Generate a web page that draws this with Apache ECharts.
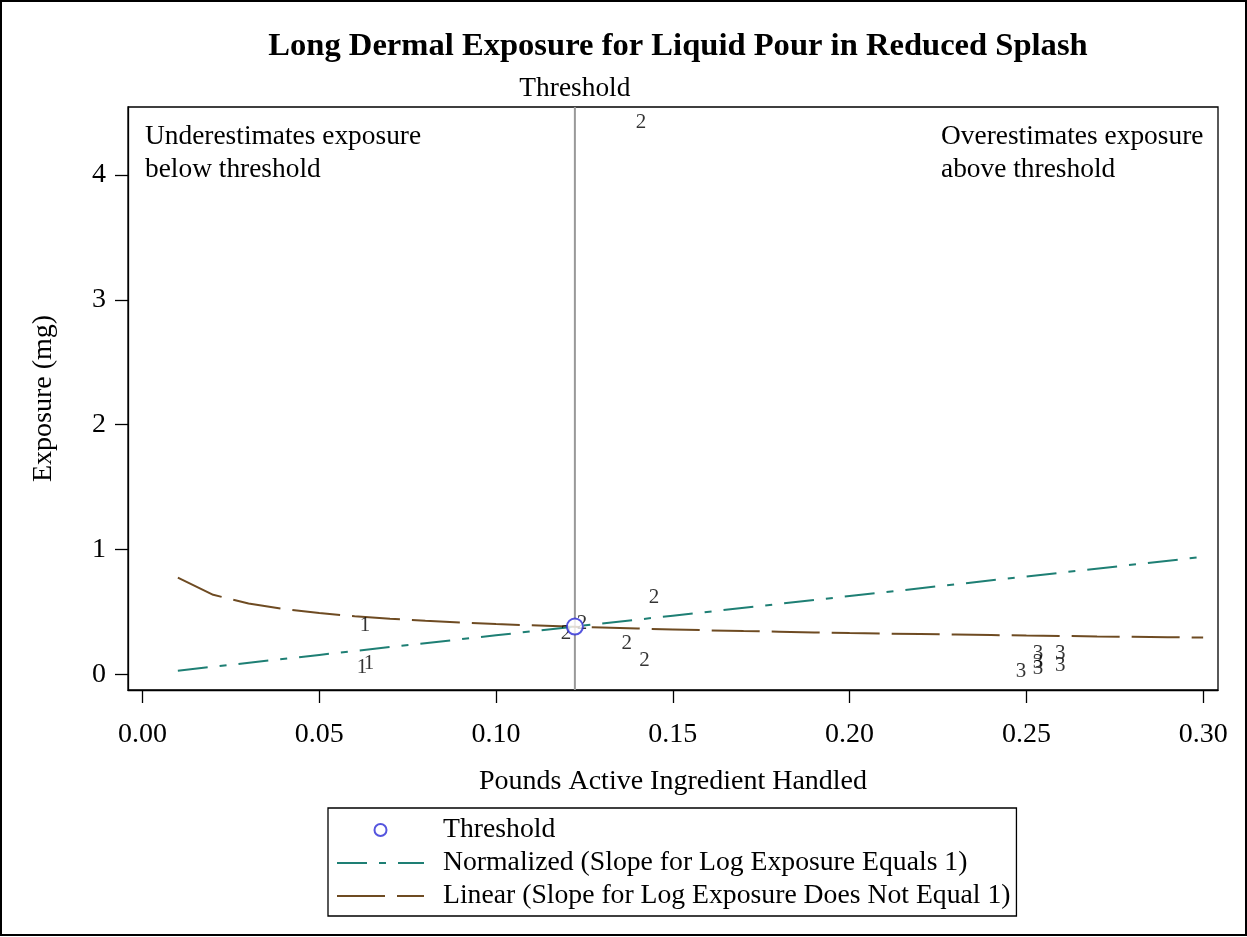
<!DOCTYPE html>
<html><head><meta charset="utf-8">
<script src="https://cdn.jsdelivr.net/npm/echarts@6/dist/echarts.min.js"></script>
<style>html,body{margin:0;padding:0;background:#fff}#c{width:1247px;height:937px}</style>
</head><body><div id="c"></div>
<script>
const xTicks = [0, 0.05, 0.10, 0.15, 0.20, 0.25, 0.30];
const yTicks = [0, 1, 2, 3, 4];
const thresholdX = 0.1223;
const thresholdY = 0.384;
const thresholdLineY = [-0.124, 4.544];
const normX = [0.01, 0.05, 0.10, 0.1223, 0.15, 0.20, 0.25, 0.30];
const normY = [0.031, 0.157, 0.314, 0.384, 0.471, 0.628, 0.785, 0.942];
const linX = [0.01,0.02,0.03,0.04,0.05,0.06,0.07,0.08,0.09,0.10,0.11,0.12,0.13,0.14,0.15,0.16,0.17,0.18,0.19,0.20,0.21,0.22,0.23,0.24,0.25,0.26,0.27,0.28,0.29,0.30];
const linY = [0.776,0.638,0.569,0.524,0.492,0.467,0.447,0.431,0.417,0.404,0.394,0.384,0.376,0.368,0.361,0.354,0.348,0.343,0.337,0.332,0.328,0.324,0.320,0.316,0.312,0.309,0.305,0.302,0.299,0.296];
const ptX = [0.0629, 0.0621, 0.0641, 0.141, 0.1447, 0.1198, 0.1243, 0.137, 0.142, 0.2485, 0.2533, 0.2533, 0.2533, 0.2596, 0.2596];
const ptY = [0.396, 0.060, 0.092, 4.42, 0.620, 0.332, 0.412, 0.252, 0.116, 0.028, 0.172, 0.100, 0.052, 0.172, 0.076];
const ptLabel = ['1','1','1','2','2','2','2','2','2','3','3','3','3','3','3'];

const FONT = 'Liberation Serif';
const chart = echarts.init(document.getElementById('c'), null, {renderer:'canvas'});
chart.setOption({
  animation: false,
  backgroundColor: '#fff',
  title: {
    text: 'Long Dermal Exposure for Liquid Pour in Reduced Splash',
    left: 673, top: 25, textAlign: 'center',
    textStyle: {fontFamily: FONT, fontWeight: 'bold', fontSize: 32.6, color: '#000'}
  },
  grid: {left: 128, top: 107, width: 1090, height: 583, show: true, borderColor: '#000', borderWidth: 1.3, backgroundColor: '#fff'},
  xAxis: {
    type: 'value', min: -0.0041, max: 0.3042,
    name: 'Pounds Active Ingredient Handled', nameLocation: 'middle', nameGap: 78,
    nameTextStyle: {fontFamily: FONT, fontSize: 28, color: '#000'},
    axisLine: {show: true, onZero: false, lineStyle: {color: '#000', width: 1.3}},
    axisTick: {show: true, length: 13, customValues: xTicks, lineStyle: {color: '#000', width: 1.3}},
    axisLabel: {customValues: xTicks, margin: 31, fontFamily: FONT, fontSize: 28, color: '#000', formatter: v => v.toFixed(2)},
    splitLine: {show: false}
  },
  yAxis: {
    type: 'value', min: -0.124, max: 4.544,
    name: 'Exposure (mg)', nameLocation: 'middle', nameGap: 70, nameRotate: 90,
    nameTextStyle: {fontFamily: FONT, fontSize: 28, color: '#000'},
    axisLine: {show: true, onZero: false, lineStyle: {color: '#000', width: 1.3}},
    axisTick: {show: true, length: 13, customValues: yTicks, lineStyle: {color: '#000', width: 1.3}},
    axisLabel: {customValues: yTicks, margin: 22, fontFamily: FONT, fontSize: 28, color: '#000'},
    splitLine: {show: false}
  },
  legend: {
    orient: 'vertical', left: 328, top: 808,
    padding: [8, 6, 6, 8], itemGap: 5, itemWidth: 87, itemHeight: 12,
    borderColor: '#000', borderWidth: 1.3,
    textStyle: {fontFamily: FONT, fontSize: 27.7, lineHeight: 28, color: '#000', padding: [0, 0, 0, 14]},
    data: [
      {name: 'Threshold', icon: 'circle', itemStyle: {color: 'transparent', borderColor: '#2b2bd6', borderWidth: 2}},
      {name: 'Normalized (Slope for Log Exposure Equals 1)', itemStyle: {opacity: 0}},
      {name: 'Linear (Slope for Log Exposure Does Not Equal 1)', itemStyle: {opacity: 0}}
    ]
  },
  graphic: [
    {type: 'rect', silent: true, z: -10, shape: {x: 1, y: 1, width: 1245, height: 934}, style: {fill: 'none', stroke: '#000', lineWidth: 2}},
    {type: 'text', left: 145, top: 120, style: {text: 'Underestimates exposure\nbelow threshold', fontFamily: FONT, fontSize: 27.4, lineHeight: 33, fill: '#000'}},
    {type: 'text', left: 941, top: 120, style: {text: 'Overestimates exposure\nabove threshold', fontFamily: FONT, fontSize: 27.4, lineHeight: 33, fill: '#000'}}
  ],
  series: [
    {
      name: 'thresholdLine', type: 'line', symbol: 'circle', symbolSize: 0, showSymbol: true, z: 1, silent: true,
      data: thresholdLineY.map((y, i) => ({value: [thresholdX, y], label: {show: i === 1}})),
      itemStyle: {color: '#999'},
      lineStyle: {color: '#999', width: 2},
      label: {position: 'top', formatter: 'Threshold', distance: 5, fontFamily: FONT, fontSize: 27.4, color: '#000'}
    },
    {
      name: 'Linear (Slope for Log Exposure Does Not Equal 1)', type: 'line', symbol: 'none', z: 2,
      data: linX.map((x, i) => [x, linY[i]]),
      itemStyle: {color: '#6e4b22'},
      lineStyle: {color: '#6e4b22', width: 2, type: [48, 12]}
    },
    {
      name: 'Normalized (Slope for Log Exposure Equals 1)', type: 'line', symbol: 'none', z: 2,
      data: normX.map((x, i) => [x, normY[i]]),
      itemStyle: {color: '#1e7f74'},
      lineStyle: {color: '#1e7f74', width: 2, type: [30, 12, 7, 12]}
    },
    {
      name: 'Threshold', type: 'scatter', symbol: 'emptyCircle', symbolSize: 16, z: 5,
      data: [[thresholdX, thresholdY]],
      itemStyle: {color: '#2b2bd6', borderColor: '#2b2bd6', borderWidth: 2.5}
    },
    {
      name: 'groups', type: 'scatter', symbolSize: 1, z: 4,
      itemStyle: {color: 'transparent'},
      data: ptX.map((x, i) => ({value: [x, ptY[i]], label: {formatter: ptLabel[i]}})),
      label: {show: true, position: 'inside', fontFamily: FONT, fontSize: 21, color: '#000'}
    }
  ]
});
</script></body></html>
